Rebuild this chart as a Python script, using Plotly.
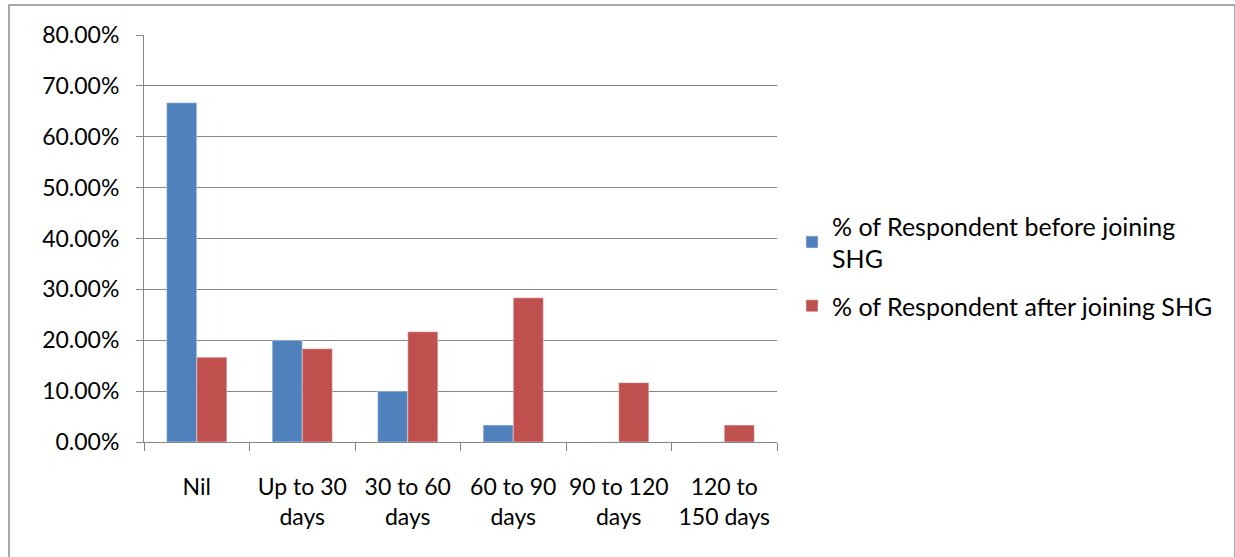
import plotly.graph_objects as go

categories = ["Nil", "Up to 30<br>days", "30 to 60<br>days", "60 to 90<br>days", "90 to 120<br>days", "120 to<br>150 days"]
before = [0.6667, 0.20, 0.10, 0.0333, 0.0, 0.0]
after = [0.1667, 0.1833, 0.2167, 0.2833, 0.1167, 0.0333]
series_names = ["% of Respondent before joining<br>SHG", "% of Respondent after joining SHG"]
y_ticks = [0, 0.1, 0.2, 0.3, 0.4, 0.5, 0.6, 0.7, 0.8]

FONT = "Lato, Open Sans, sans-serif"
GRID = "#868686"

fig = go.Figure()
fig.add_trace(go.Bar(x=categories, y=before, name=series_names[0], marker_color="#4F81BD",
                     legendgroup="a"))
fig.add_trace(go.Bar(x=categories, y=after, name=series_names[1], marker_color="#C0504D",
                     legendgroup="b"))

L, R, T, B = 144, 777, 35, 442
W, H = 1235, 557

def px(x):
    return (x - L) / (R - L)

def py(y):
    return (B - y) / (B - T)

fig.update_layout(
    width=W, height=H,
    margin=dict(l=L, r=W - R, t=T, b=H - B, pad=0, autoexpand=False),
    plot_bgcolor="white", paper_bgcolor="white",
    barmode="group", bargap=0.43, bargroupgap=0,
    font=dict(family=FONT, size=23, color="#000000"),
    legend=dict(x=px(792), y=py(203), xanchor="left", yanchor="top",
                font=dict(size=25), tracegroupgap=12, itemwidth=30,
                bgcolor="rgba(0,0,0,0)"),
    showlegend=True,
    shapes=[dict(type="rect", xref="paper", yref="paper",
                 x0=px(9), x1=px(1235), y0=py(600), y1=py(5),
                 line=dict(color="#8C8C8C", width=1.5), fillcolor="rgba(0,0,0,0)", layer="below")],
)
fig.update_xaxes(type="category", showgrid=False, showline=True, linecolor=GRID, linewidth=1,
                 ticks="outside", tickson="boundaries", ticklen=8, tickcolor=GRID,
                 tickfont=dict(size=23), range=[-0.5, 5.5], tickangle=0, automargin=False,
                 ticklabelstandoff=24)
fig.update_yaxes(range=[0, 0.8], tickvals=y_ticks, tickformat=".2%", showgrid=True,
                 gridcolor=GRID, gridwidth=1, showline=True, linecolor=GRID, linewidth=1,
                 ticks="outside", ticklen=7, tickcolor=GRID, tickfont=dict(size=23),
                 zeroline=False, ticklabelstandoff=12, automargin=False)

fig.write_html("out.html", config={"displayModeBar": False},
               post_script="document.body.style.margin='0';document.body.style.overflow='hidden';")
